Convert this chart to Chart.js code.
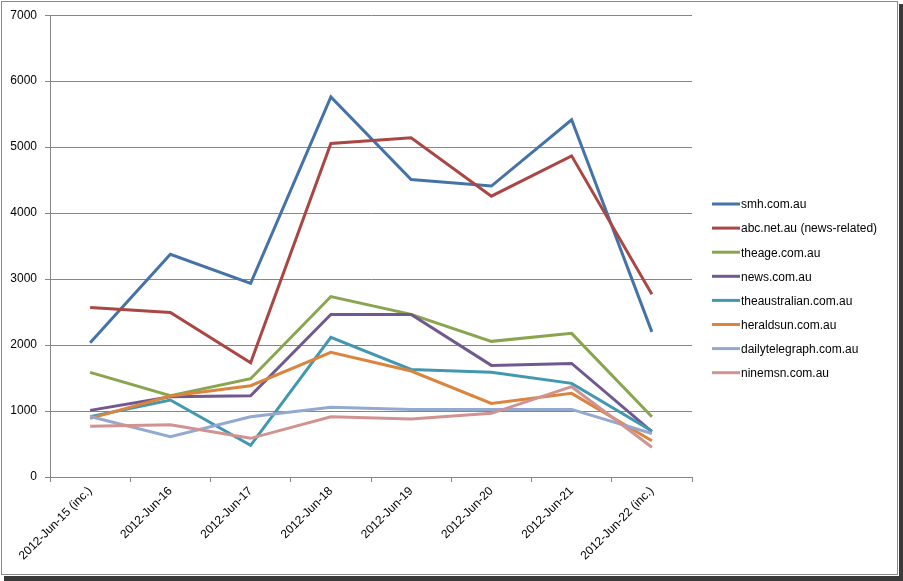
<!DOCTYPE html>
<html>
<head>
<meta charset="utf-8">
<script src="https://cdn.jsdelivr.net/npm/chart.js@4"></script>
<style>
  body { margin: 0; background: #fff; }
  #shadow { position: absolute; left: 4px; top: 4px; width: 899px; height: 577px; background: #3a3a3a; }
  #paper { position: absolute; left: 0; top: 0; width: 899px; height: 576px; background: #fff; }
  #frame { position: absolute; left: 1px; top: 1px; width: 895px; height: 572px; border: 1px solid #8a8a8a; background: #fff; }
  #wrap { position: absolute; left: 0; top: 0; width: 903px; height: 581px; }
</style>
</head>
<body>
<div id="shadow"></div>
<div id="paper"><div id="frame"></div></div>
<div id="wrap"><canvas id="ChartLineSites" width="903" height="581"></canvas></div>
<script>
var dias = ['2012-Jun-15 (inc.)', '2012-Jun-16', '2012-Jun-17', '2012-Jun-18',
  '2012-Jun-19', '2012-Jun-20', '2012-Jun-21', '2012-Jun-22 (inc.)'];
var sitios = ['smh.com.au', 'abc.net.au (news-related)', 'theage.com.au', 'news.com.au',
  'theaustralian.com.au', 'heraldsun.com.au', 'dailytelegraph.com.au', 'ninemsn.com.au'];
var smh = [2035, 3376, 2936, 5762, 4510, 4410, 5415, 2200];
var abc = [2571, 2495, 1732, 5055, 5141, 4257, 4868, 2770];
var theage = [1586, 1232, 1490, 2735, 2465, 2056, 2177, 914];
var news = [1010, 1217, 1232, 2465, 2465, 1692, 1722, 687];
var theaustralian = [914, 1167, 480, 2116, 1631, 1586, 1419, 697];
var heraldsun = [889, 1227, 1384, 1889, 1606, 1116, 1268, 550];
var dailytelegraph = [916, 611, 914, 1056, 1025, 1025, 1025, 660];
var ninemsn = [768, 793, 586, 914, 879, 965, 1369, 450];
var colores = ['#4572A7', '#AA4643', '#89A54E', '#71588F', '#4198AF', '#DB843D', '#93A9CF', '#D19392'];

var series = [smh, abc, theage, news, theaustralian, heraldsun, dailytelegraph, ninemsn];
var fuente = "'Liberation Sans', Arial, sans-serif";

// leyenda a la derecha, como en Excel
var leyenda = {
  id: 'leyenda',
  afterDraw: function (chart) {
    var ctx = chart.ctx;
    ctx.save();
    ctx.font = '12px ' + fuente;
    ctx.textBaseline = 'middle';
    chart.data.datasets.forEach(function (ds, i) {
      var y = 204 + i * 24.1;
      ctx.strokeStyle = ds.borderColor;
      ctx.lineWidth = 3;
      ctx.beginPath();
      ctx.moveTo(712, y);
      ctx.lineTo(740, y);
      ctx.stroke();
      ctx.fillStyle = '#000';
      ctx.fillText(ds.label, 741, y + 1);
    });
    ctx.restore();
  }
};

var ctx = document.getElementById('ChartLineSites').getContext('2d');
var myChart = new Chart(ctx, {
  type: 'line',
  data: {
    labels: dias,
    datasets: series.map(function (s, i) {
      return {
        label: sitios[i],
        data: s,
        borderColor: colores[i],
        backgroundColor: colores[i],
        borderWidth: 3,
        pointRadius: 0,
        tension: 0,
        fill: false,
        order: 7 - i
      };
    })
  },
  options: {
    responsive: false,
    animation: false,
    devicePixelRatio: 1,
    layout: { padding: { top: 15, right: 211, left: 0, bottom: 0 } },
    plugins: {
      legend: { display: false },
      tooltip: { enabled: false }
    },
    scales: {
      x: {
        offset: true,
        grid: { offset: true, drawOnChartArea: false, color: '#868686', tickLength: 5 },
        border: { color: '#868686' },
        ticks: {
          minRotation: 45, maxRotation: 45, autoSkip: false, padding: 2,
          color: '#000', font: { family: fuente, size: 12 }
        },
        afterFit: function (scale) { scale.height = 104; }
      },
      y: {
        min: 0, max: 7000,
        grid: { color: '#868686', tickLength: 5 },
        border: { color: '#868686' },
        ticks: {
          stepSize: 1000, padding: 8,
          color: '#000', font: { family: fuente, size: 12 },
          callback: function (v) { return String(v); }
        },
        afterFit: function (scale) { scale.width = 50; }
      }
    }
  },
  plugins: [leyenda]
});
</script>
</body>
</html>
